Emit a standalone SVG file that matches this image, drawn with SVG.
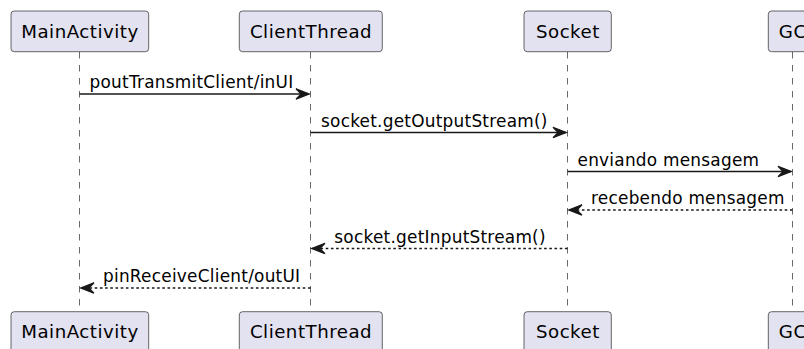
<svg xmlns="http://www.w3.org/2000/svg" width="804" height="349" viewBox="0 0 804 349">
<style>
.box{fill:#E2E2F0;stroke:#181818;stroke-width:0.65}
.pt{font-family:"DejaVu Sans",sans-serif;font-size:18.2px;letter-spacing:0.5px;fill:#000;text-anchor:middle}
.life{stroke:#181818;stroke-width:0.65;stroke-dasharray:6.5,6.5;fill:none}
.msg{stroke:#181818;stroke-width:1.3;fill:none}
.dash{stroke-dasharray:2.6,2.6}
.head{fill:#181818;stroke:#181818;stroke-width:1.3}
.mt{font-family:"DejaVu Sans",sans-serif;font-size:16.9px;letter-spacing:0.25px;fill:#000}
</style>
<g id="lifelines">
<line class="life" x1="79.5" y1="52" x2="79.5" y2="312"/>
<line class="life" x1="310.5" y1="52" x2="310.5" y2="312"/>
<line class="life" x1="567.5" y1="52" x2="567.5" y2="312"/>
<line class="life" x1="792.5" y1="52" x2="792.5" y2="312"/>
</g>
<g id="MainActivity">
<rect class="box" x="11" y="11" width="137.7" height="40.7" rx="3.25"/>
<text class="pt" x="80" y="37.5">MainActivity</text>
</g>
<g id="ClientThread">
<rect class="box" x="239.3" y="11" width="143" height="40.7" rx="3.25"/>
<text class="pt" x="311" y="37.5">ClientThread</text>
</g>
<g id="Socket">
<rect class="box" x="524" y="11" width="87.3" height="40.7" rx="3.25"/>
<text class="pt" x="567.9" y="37.5">Socket</text>
</g>
<g id="GC">
<rect class="box" x="768.3" y="11" width="48.4" height="40.7" rx="3.25"/>
<text class="pt" x="792.7" y="37.5">GC</text>
</g>
<g id="MainActivity-bottom">
<rect class="box" x="11" y="311.7" width="137.7" height="40.7" rx="3.25"/>
<text class="pt" x="80" y="338.2">MainActivity</text>
</g>
<g id="ClientThread-bottom">
<rect class="box" x="239.3" y="311.7" width="143" height="40.7" rx="3.25"/>
<text class="pt" x="311" y="338.2">ClientThread</text>
</g>
<g id="Socket-bottom">
<rect class="box" x="524" y="311.7" width="87.3" height="40.7" rx="3.25"/>
<text class="pt" x="567.9" y="338.2">Socket</text>
</g>
<g id="GC-bottom">
<rect class="box" x="768.3" y="311.7" width="48.4" height="40.7" rx="3.25"/>
<text class="pt" x="792.7" y="338.2">GC</text>
</g>
<g id="connectors">
<line class="msg" x1="79.5" y1="94" x2="309" y2="94"/>
<polygon class="head" points="296,88.8 309.2,94 296,99.2 301.2,94"/>
<text class="mt" x="89.5" y="88">poutTransmitClient/inUI</text>

<line class="msg" x1="310.5" y1="132.5" x2="566" y2="132.5"/>
<polygon class="head" points="553,127.3 566.2,132.5 553,137.7 558.2,132.5"/>
<text class="mt" x="321" y="126.5">socket.getOutputStream()</text>

<line class="msg" x1="567.5" y1="171.5" x2="791" y2="171.5"/>
<polygon class="head" points="778,166.3 791.2,171.5 778,176.7 783.2,171.5"/>
<text class="mt" x="577.5" y="165.5">enviando mensagem</text>

<line class="msg dash" x1="792.5" y1="210" x2="569" y2="210"/>
<polygon class="head" points="582,204.8 568.8,210 582,215.2 576.8,210"/>
<text class="mt" x="591" y="204">recebendo mensagem</text>

<line class="msg dash" x1="567.5" y1="248.5" x2="312" y2="248.5"/>
<polygon class="head" points="325,243.3 311.8,248.5 325,253.7 319.8,248.5"/>
<text class="mt" x="334.3" y="242.5">socket.getInputStream()</text>

<line class="msg dash" x1="310.5" y1="288" x2="81" y2="288"/>
<polygon class="head" points="94,282.8 80.8,288 94,293.2 88.8,288"/>
<text class="mt" x="103" y="282">pinReceiveClient/outUI</text>
</g>
</svg>
